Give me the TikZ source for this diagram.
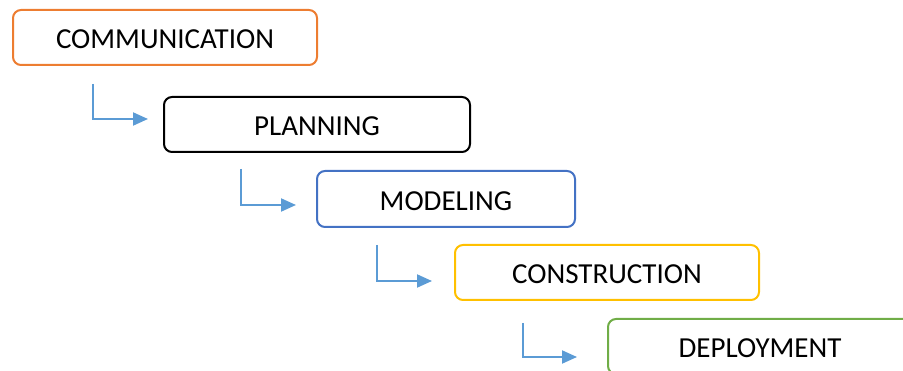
\documentclass[tikz,border=0pt]{standalone}
\usepackage{fontspec}
\setmainfont{Carlito}
\usetikzlibrary{arrows.meta}

\definecolor{commorange}{HTML}{ED7D31}
\definecolor{modelblue}{HTML}{4472C4}
\definecolor{constrgold}{HTML}{FFC000}
\definecolor{deploygreen}{HTML}{70AD47}
\definecolor{flowblue}{HTML}{5B9BD5}

\tikzset{
  phase/.style={draw, rounded corners=8pt, line width=2pt, minimum width=304pt,
    minimum height=55pt, inner sep=0pt, text height=23pt, text depth=0pt,
    font=\fontsize{29}{29}\selectfont},
  flow/.style={draw=flowblue, line width=2pt, -{Triangle[length=15pt,width=13pt]}}
}

\begin{document}
\begin{tikzpicture}[x=1pt,y=-1pt]
      \useasboundingbox (0,0) rectangle (903,371);
      \clip (0,0) rectangle (903,371);
      % phases
      \node[phase, draw=commorange] (comm) at (165,37.5) {COMMUNICATION};
      \node[phase, draw=black, minimum width=306pt] (plan) at (317,124.5) {PLANNING};
      \node[phase, draw=modelblue, minimum width=258pt, minimum height=56pt] (model) at (446,199) {MODELING};
      \node[phase, draw=constrgold] (constr) at (607,272.5) {CONSTRUCTION};
      \node[phase, draw=deploygreen] (deploy) at (760,346.5) {DEPLOYMENT};
      % flow arrows
      \coordinate (s1) at (93,84);   \coordinate (e1) at (148,119);
      \coordinate (s2) at (241,169); \coordinate (e2) at (296,205);
      \coordinate (s3) at (377,245); \coordinate (e3) at (432,281);
      \coordinate (s4) at (523,323); \coordinate (e4) at (577,357);
      \draw[flow] (s1) |- (e1);
      \draw[flow] (s2) |- (e2);
      \draw[flow] (s3) |- (e3);
      \draw[flow] (s4) |- (e4);
%      \draw[flow] (comm) |- (plan);
\end{tikzpicture}
\end{document}
